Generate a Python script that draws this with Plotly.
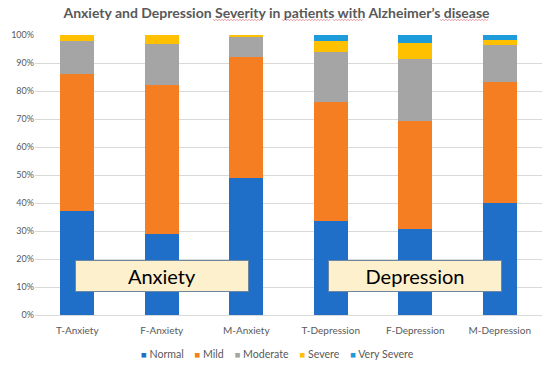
import plotly.graph_objects as go

categories = ["T-Anxiety", "F-Anxiety", "M-Anxiety", "T-Depression", "F-Depression", "M-Depression"]
normal = [37.0, 29.0, 49.0, 33.6, 30.6, 40.1]
mild = [49.0, 53.0, 43.0, 42.4, 38.7, 43.2]
moderate = [12.0, 14.7, 7.4, 17.9, 22.1, 13.2]
severe = [2.0, 3.3, 0.6, 4.1, 5.7, 1.8]
very_severe = [0.0, 0.0, 0.0, 2.0, 2.9, 1.7]

series = [
    ("Normal", normal, "#1F6FC8"),
    ("Mild", mild, "#F57E22"),
    ("Moderate", moderate, "#A5A5A5"),
    ("Severe", severe, "#FFC000"),
    ("Very Severe", very_severe, "#1E9BDA"),
]

FONT = "Lato, 'Open Sans', sans-serif"
GRAY = "#595959"

# plot-area geometry in pixels (used to place decorations outside the axes)
L, R, T, B = 35, 542, 35, 315


def px(x):
    return (x - L) / (R - L)


def py(y):
    return (B - y) / (B - T)


fig = go.Figure()
for name, vals, color in series:
    fig.add_trace(go.Bar(
        name=name, x=categories, y=[v / 100 for v in vals],
        marker=dict(color=color, line=dict(width=0)),
        width=0.4, showlegend=False,
    ))

fig.update_layout(
    barmode="stack",
    width=550, height=366,
    margin=dict(l=L, r=550 - R, t=T, b=366 - B, autoexpand=False),
    paper_bgcolor="white", plot_bgcolor="white",
    font=dict(family=FONT, color=GRAY, size=10),
    title=dict(
        text="<b>Anxiety and Depression Severity in patients with Alzheimer’s disease</b>",
        x=276.5 / 550, xanchor="center", xref="container",
        y=1 - 13 / 366, yanchor="middle", yref="container",
        font=dict(family=FONT, size=14, color=GRAY),
    ),
    xaxis=dict(
        showgrid=False, showline=False, ticks="",
        tickfont=dict(size=10, color=GRAY), tickangle=0,
        ticklabelstandoff=8,
    ),
    yaxis=dict(
        range=[0, 1], tickformat=".0%", dtick=0.1,
        showgrid=True, gridcolor="#D9D9D9", gridwidth=1,
        zeroline=True, zerolinecolor="#D9D9D9", zerolinewidth=1,
        showline=False, ticks="",
        tickfont=dict(size=9, color=GRAY),
    ),
    showlegend=False,
)

# legend drawn as a single text line built from the series names/colours
sep = "&nbsp;&nbsp;&nbsp;&nbsp;"
legend_text = sep.join(
    f"<span style='color:{c};font-size:9.5px'>■</span>&nbsp;{n}" for n, _, c in series
)
fig.add_annotation(
    x=px(277), y=py(354), xref="paper", yref="paper",
    xanchor="center", yanchor="middle",
    text=legend_text, showarrow=False,
    font=dict(family=FONT, size=10.6, color=GRAY),
)

for label, xc in [("Anxiety", 1), ("Depression", 4)]:
    fig.add_annotation(
        x=xc, y=0.14, xref="x", yref="y",
        text=label, showarrow=False,
        font=dict(family=FONT, size=20, color="black"),
        bgcolor="#FDF0CD", bordercolor="#6F86A0", borderwidth=1,
        width=170, height=28, align="center", valign="middle",
    )

# spell-check style wavy underlines seen under some title words
for x0, x1 in [(213, 263), (282, 330), (333, 363), (440, 488)]:
    pts = []
    x = x0
    k = 0
    while x <= x1:
        yy = 20 + (0.8 if k % 2 else -0.8)
        pts.append(f"{px(x):.5f},{py(yy):.5f}")
        x += 1.5
        k += 1
    fig.add_shape(
        type="path", xref="paper", yref="paper",
        path="M" + " L".join(pts),
        line=dict(color="#E57F87", width=0.8),
    )

fig.write_html(
    "out.html",
    config={"displayModeBar": False},
    post_script="document.body.style.margin='0';",
)
